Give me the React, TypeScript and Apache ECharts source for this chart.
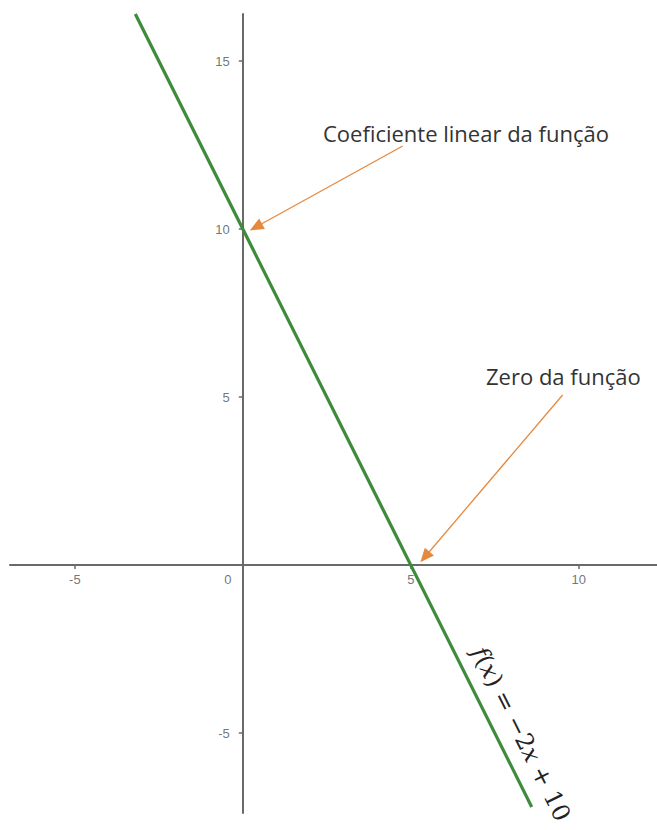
import React, { useEffect, useRef } from "react";
import * as echarts from "echarts";

// f(x) = -2x + 10
const slope = -2;
const intercept = 10;
const lineX = [-3.2, 8.6];

// visible window of the plane
const xRange = [-6.93, 12.33];
const yRange = [-7.38, 16.4];

const xTickValues = [-5, 5, 10];
const xLabelValues = [-5, 0, 5, 10];
const yTickValues = [-5, 5, 10, 15];

// annotation arrows: [from, to] in plane coordinates
const arrowCoef = [[4.76, 12.47], [0.39, 10.06]];
const arrowZero = [[9.52, 5.06], [5.42, 0.24]];

const noteCoef = "Coeficiente linear da função";
const noteZero = "Zero da função";

const GREEN = "#3c8c3c";
const ORANGE = "#e5893f";
const AXIS = "#6a6a6a";
const LABEL = "#505050";

export default function App() {
  const ref = useRef<HTMLDivElement>(null);

  useEffect(() => {
    document.body.style.margin = "0";
    const chart = echarts.init(ref.current!, null, { renderer: "svg" });
    const lineData = lineX.map((x) => [x, slope * x + intercept]);
    const tickLabelStyle = {
      show: true,
      color: LABEL,
      fontSize: 13,
      fontFamily: "Liberation Sans",
      textBorderWidth: 0,
    };
    chart.setOption({
      animation: false,
      backgroundColor: "#ffffff",
      grid: {
        left: 10,
        right: 0,
        top: 14,
        bottom: 17,
        containLabel: false,
        outerBoundsMode: "none",
      },
      xAxis: {
        type: "value",
        min: xRange[0],
        max: xRange[1],
        splitLine: { show: false },
        axisLine: { show: true, onZero: true, lineStyle: { color: AXIS, width: 2 } },
        axisTick: {
          show: true,
          length: 4,
          customValues: xTickValues,
          lineStyle: { color: AXIS, width: 1.5 },
        },
        axisLabel: { show: false },
      },
      yAxis: {
        type: "value",
        min: yRange[0],
        max: yRange[1],
        splitLine: { show: false },
        axisLine: { show: true, onZero: true, lineStyle: { color: AXIS, width: 2 } },
        axisTick: {
          show: true,
          length: 4,
          customValues: yTickValues,
          lineStyle: { color: AXIS, width: 1.5 },
        },
        axisLabel: { show: false },
      },
      series: [
        {
          type: "line",
          data: lineData,
          showSymbol: false,
          lineStyle: { color: GREEN, width: 3.2 },
          z: 3,
          markLine: {
            silent: true,
            symbol: ["none", "triangle"],
            symbolSize: [12, 14],
            label: { show: false },
            lineStyle: { color: ORANGE, width: 1.3, type: "solid" },
            itemStyle: { color: ORANGE },
            data: [
              [{ coord: arrowCoef[0] }, { coord: arrowCoef[1] }],
              [{ coord: arrowZero[0] }, { coord: arrowZero[1] }],
            ],
          },
        },
        // tick labels along the x axis, sitting on the zero line
        {
          type: "scatter",
          symbolSize: 0,
          silent: true,
          itemStyle: { color: LABEL },
          data: xLabelValues.map((v) => ({
            value: [v, 0],
            label: v === 0 ? { offset: [-15, 0] } : {},
          })),
          label: {
            ...tickLabelStyle,
            position: "bottom",
            distance: 8,
            formatter: (p: any) => String(p.value[0]),
          },
        },
        // tick labels along the y axis
        {
          type: "scatter",
          symbolSize: 0,
          silent: true,
          itemStyle: { color: LABEL },
          data: yTickValues.map((v) => [0, v]),
          label: {
            ...tickLabelStyle,
            position: "left",
            distance: 13,
            formatter: (p: any) => String(p.value[1]),
          },
        },
      ],
      graphic: [
        {
          type: "text",
          x: 323,
          y: 133,
          style: {
            text: noteCoef,
            fill: "#333",
            font: "22px 'Open Sans'",
            verticalAlign: "middle",
          },
        },
        {
          type: "text",
          x: 486,
          y: 376,
          style: {
            text: noteZero,
            fill: "#333",
            font: "22px 'Open Sans'",
            verticalAlign: "middle",
          },
        },
        {
          type: "text",
          x: 521,
          y: 734,
          rotation: -Math.atan(2),
          style: {
            text: "{i|f}{n|(}{i|x}{n|) = −2}{i|x}{n| + 10}",
            align: "center",
            verticalAlign: "middle",
            fill: "#222",
            rich: {
              i: { fontFamily: "DejaVu Serif", fontStyle: "italic", fontSize: 24, fill: "#222" },
              n: { fontFamily: "DejaVu Serif", fontSize: 24, fill: "#222" },
            },
          },
        },
      ],
    });
    return () => chart.dispose();
  }, []);

  return <div ref={ref} style={{ width: 657, height: 830 }} />;
}
